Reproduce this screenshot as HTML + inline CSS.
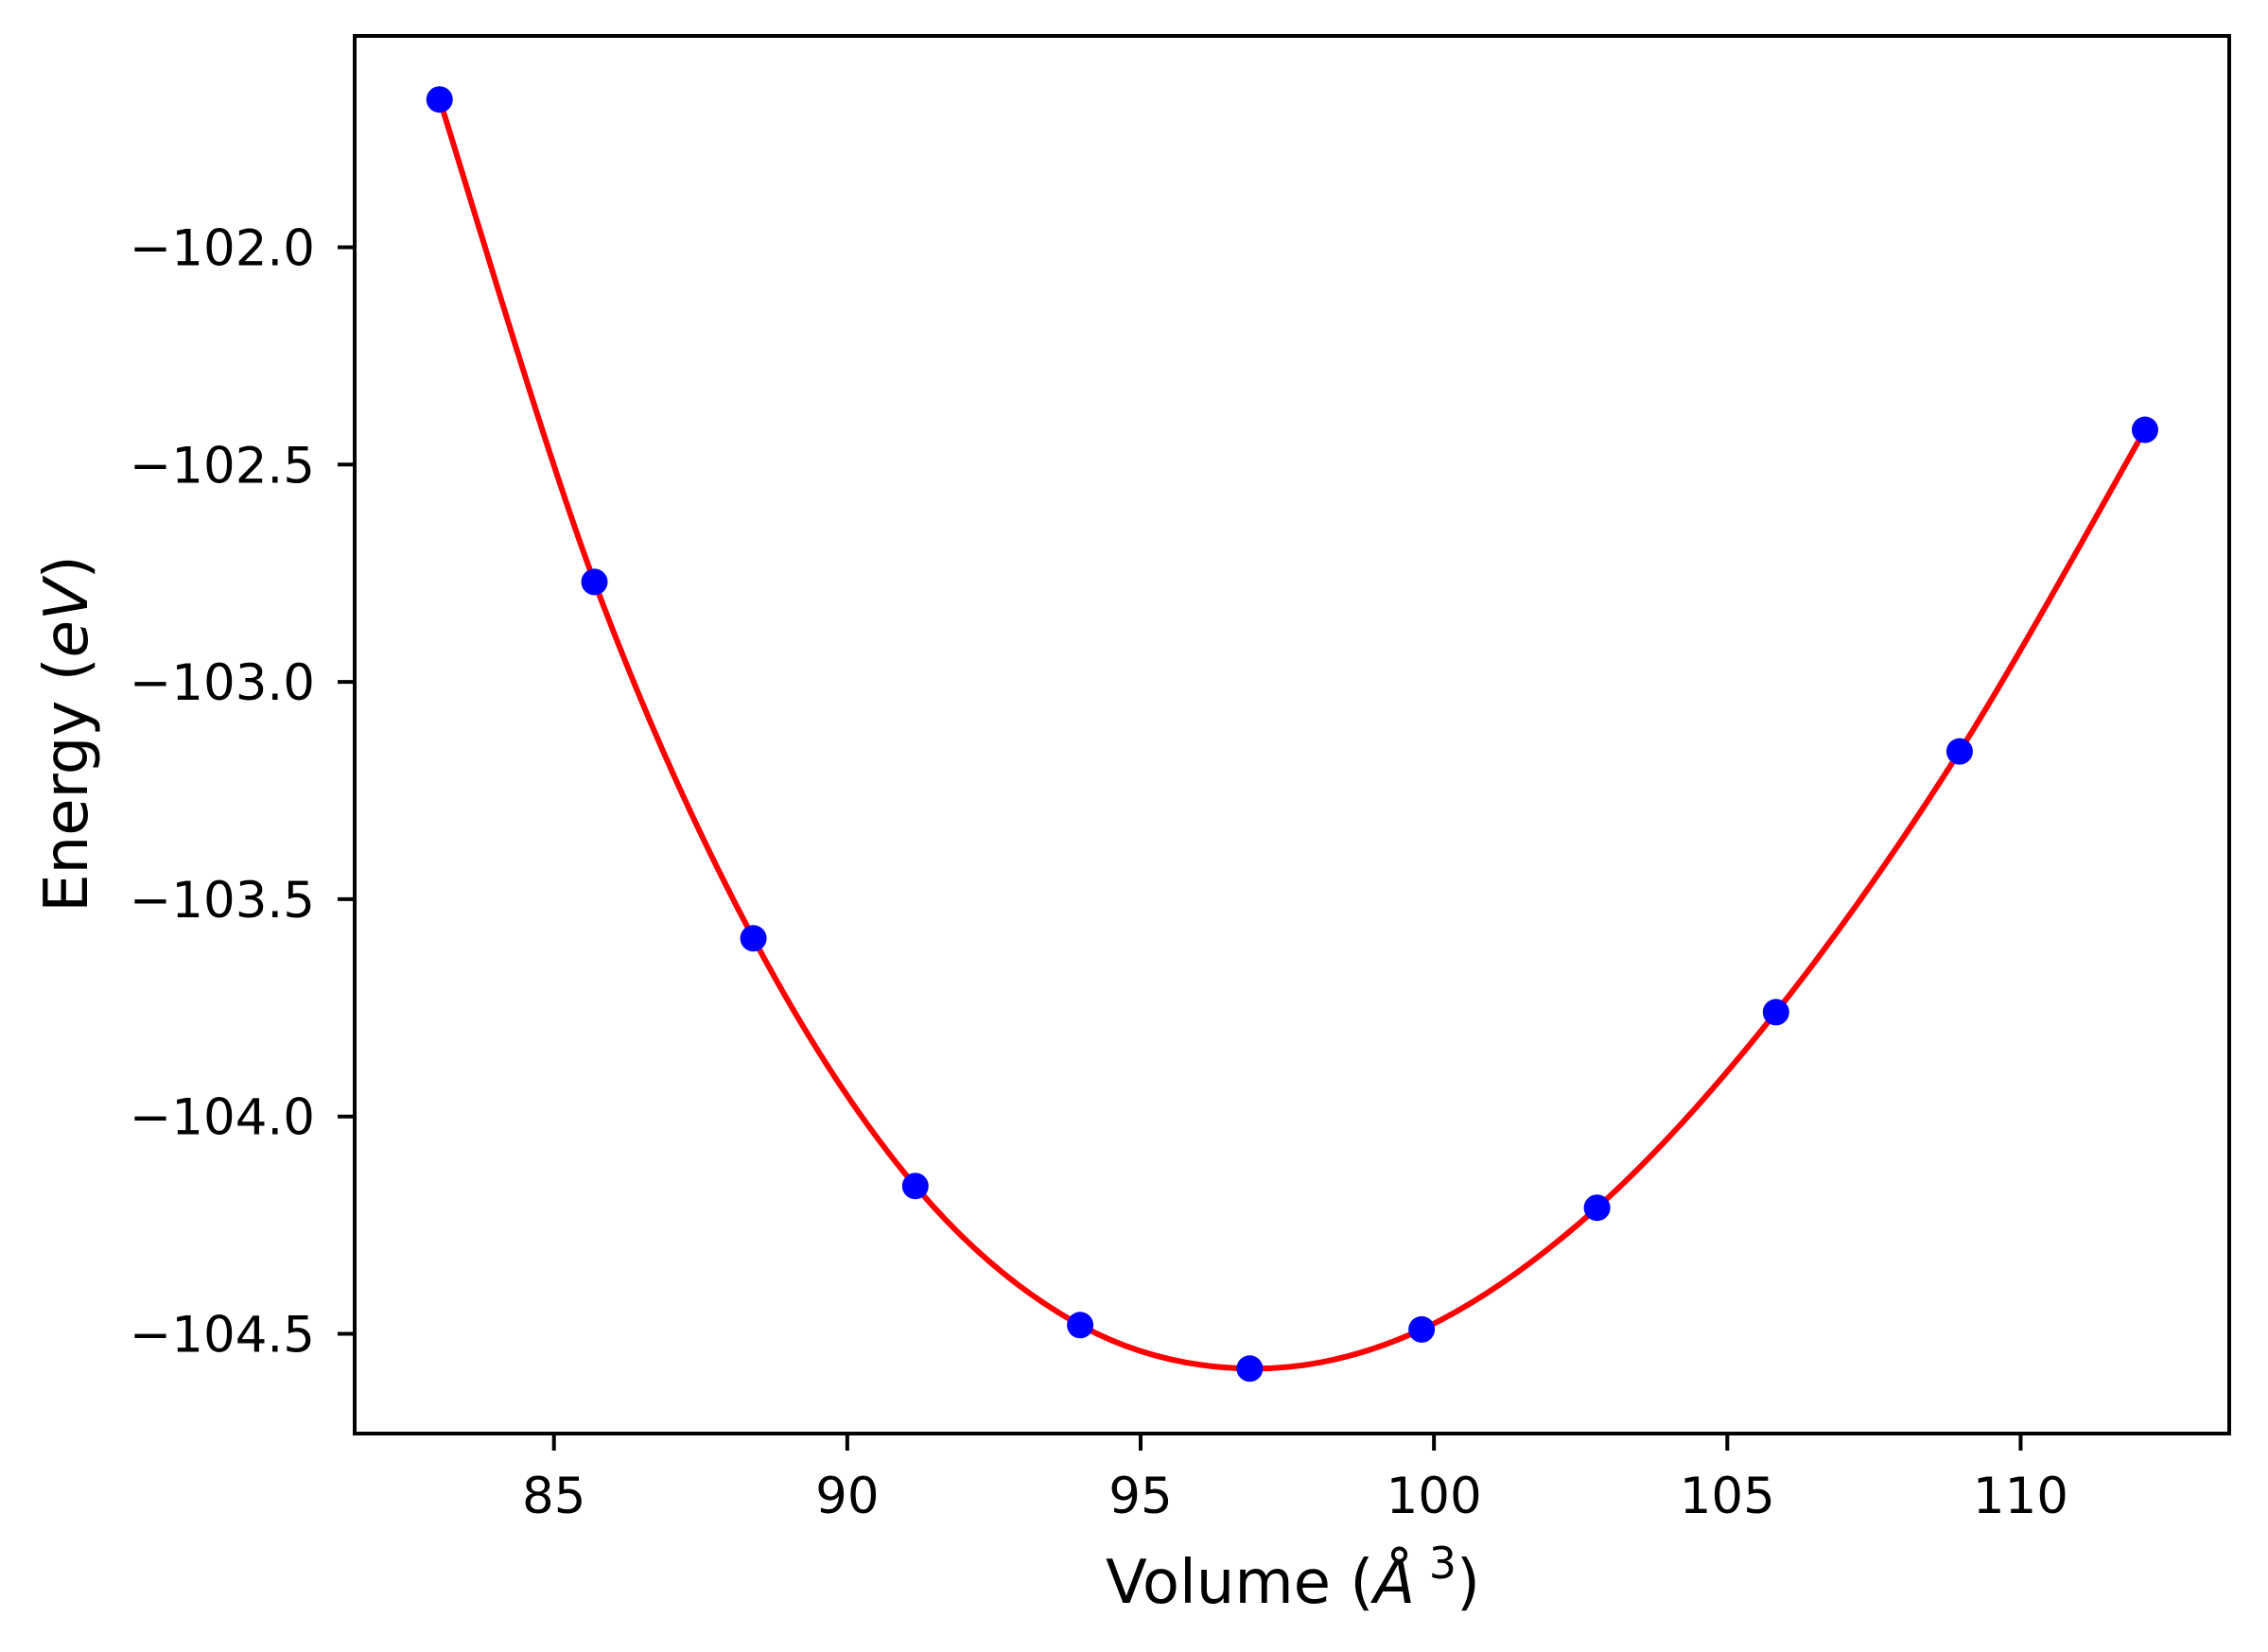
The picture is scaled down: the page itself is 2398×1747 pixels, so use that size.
<!DOCTYPE html>
<html><head><meta charset="utf-8"><style>
html,body{margin:0;padding:0;background:#fff;}
svg{display:block;font-family:"DejaVu Sans","Liberation Sans",sans-serif;}
</style></head><body>
<svg id="chart" width="2398" height="1747" viewBox="0 0 2398 1747" xmlns="http://www.w3.org/2000/svg">
<rect width="2398" height="1747" fill="#fff"/>
<g id="plot"></g>
<text x="1367" y="1695" font-size="64" text-anchor="middle">Volume (<tspan font-style="italic">Å</tspan><tspan dy="-26" font-size="46"> 3</tspan><tspan dy="26">)</tspan></text>
<text transform="translate(92,776) rotate(-90)" font-size="64" text-anchor="middle">Energy (<tspan font-style="italic">eV</tspan>)</text>
</svg>
<script>
const volumes = [83.05, 85.69, 88.40, 91.16, 93.97, 96.86, 99.79, 102.78, 105.83, 108.96, 112.12];
const energies = [-101.66, -102.77, -103.59, -104.16, -104.48, -104.58, -104.49, -104.21, -103.76, -103.16, -102.42];
const xTicks = [85, 90, 95, 100, 105, 110];
const yTicks = [-102.0, -102.5, -103.0, -103.5, -104.0, -104.5];

const L = 375, R = 2357, T = 38, B = 1516;
const x = v => 585.7 + (v - 85) * 62.03;
const y = e => 261.5 + (-102 - e) * 459.6;
const NS = "http://www.w3.org/2000/svg";
const g = document.getElementById('plot');
function mk(tag, attrs) { const el = document.createElementNS(NS, tag); for (const k in attrs) el.setAttribute(k, attrs[k]); return el; }

// fitted curve via Catmull-Rom through points
const pts = volumes.map((v, i) => [x(v), y(energies[i])]);
let d = `M${pts[0][0]},${pts[0][1]}`;
for (let i = 0; i < pts.length - 1; i++) {
  const p0 = pts[Math.max(0, i - 1)], p1 = pts[i], p2 = pts[i + 1], p3 = pts[Math.min(pts.length - 1, i + 2)];
  const c1 = [p1[0] + (p2[0] - p0[0]) / 6, p1[1] + (p2[1] - p0[1]) / 6];
  const c2 = [p2[0] - (p3[0] - p1[0]) / 6, p2[1] - (p3[1] - p1[1]) / 6];
  d += ` C${c1[0]},${c1[1]} ${c2[0]},${c2[1]} ${p2[0]},${p2[1]}`;
}
const curve = mk('path', {d: d, fill: 'none', stroke: '#ff0000', 'stroke-width': 6});


g.appendChild(curve);

pts.forEach((p, i) => {
  const c = mk('circle', {cx: p[0], cy: p[1], r: 14, fill: '#0000ff'});
  
  
  g.appendChild(c);
});

const frame = mk('rect', {x: L, y: T, width: R - L, height: B - T, fill: 'none', stroke: '#000', 'stroke-width': 4});


g.appendChild(frame);

xTicks.forEach(t => {
  const tk = mk('line', {x1: x(t), x2: x(t), y1: B, y2: B + 18, stroke: '#000', 'stroke-width': 4});
  
  
  g.appendChild(tk);
  const lb = mk('text', {x: x(t), y: 1600, 'font-size': 53, 'text-anchor': 'middle'});
  lb.textContent = String(t);
  
  
  g.appendChild(lb);
});
yTicks.forEach(t => {
  const tk = mk('line', {x1: L - 18, x2: L, y1: y(t), y2: y(t), stroke: '#000', 'stroke-width': 4});
  
  
  g.appendChild(tk);
  const lb = mk('text', {x: 333, y: y(t) + 19, 'font-size': 53, 'text-anchor': 'end'});
  lb.textContent = '\u2212' + Math.abs(t).toFixed(1);
  
  
  g.appendChild(lb);
});
</script>
</body></html>
